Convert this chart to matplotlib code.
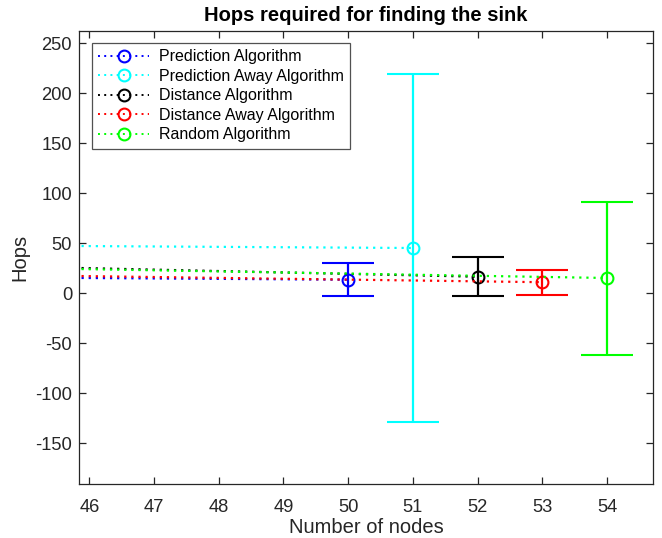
import numpy as np
import matplotlib.pyplot as plt
from matplotlib.lines import Line2D

plt.rcParams['font.family'] = ['Liberation Sans', 'DejaVu Sans']
plt.rcParams['axes.unicode_minus'] = False

# series data: previous node count (off-screen) and the shown node count
labels = ['Prediction Algorithm', 'Prediction Away Algorithm', 'Distance Algorithm',
          'Distance Away Algorithm', 'Random Algorithm']
colors = ['#0000ff', '#00ffff', '#000000', '#ff0000', '#00ff00']
nodes = [[45, 50], [45, 51], [45, 52], [45, 53], [45, 54]]
hops_mean = [[15.4, 13.3], [47.3, 45.0], [26.2, 16.3], [17.7, 10.8], [24.9, 15.0]]
hops_err = [[17.0, 16.7], [170.0, 173.6], [19.0, 19.7], [12.0, 12.5], [75.0, 76.5]]

fig = plt.figure(figsize=(6.62, 5.38), dpi=100)
ax = fig.add_axes([79 / 662, 1 - 484 / 538, (653 - 79) / 662, (484 - 31) / 538])

dots = (0, (1, 2.2))
handles = []
for x, m, e, c, lab in zip(nodes, hops_mean, hops_err, colors, labels):
    ax.errorbar(x, m, yerr=e, color=c, ecolor=c, linestyle=dots, linewidth=1.6,
                marker='o', markersize=8.5, markerfacecolor='none', markeredgewidth=1.5,
                elinewidth=1.6, capsize=18.7, capthick=1.6)
    handles.append(Line2D([], [], color=c, linestyle=dots, linewidth=1.4,
                          marker='o', markersize=8.5, markerfacecolor='none',
                          markeredgewidth=1.5, label=lab))

ax.set_xlim(45.84, 54.71)
ax.set_ylim(-191, 262)
ax.set_xticks(np.arange(46, 55, 1))
ax.set_yticks(np.arange(-150, 251, 50))

grey = '#262626'
for s in ax.spines.values():
    s.set_color(grey)
    s.set_linewidth(0.9)
ax.tick_params(direction='in', top=True, right=True, length=5, width=0.9,
               colors=grey, labelsize=13.2, labelcolor=grey)
ax.tick_params(axis='x', pad=11)
ax.tick_params(axis='y', pad=5)

ax.set_xlabel('Number of nodes', fontsize=14.5, color=grey, labelpad=1)
ax.set_ylabel('Hops', fontsize=14.5, color=grey, labelpad=4)
ax.set_title('Hops required for finding the sink', fontsize=14.5, fontweight='bold', pad=7)

leg = ax.legend(handles=handles, loc='upper left', bbox_to_anchor=(0.0226, 0.9735),
                prop={'size': 11.5}, frameon=True, fancybox=False, edgecolor=grey,
                handlelength=3.2, handletextpad=0.6, labelspacing=0.28,
                borderpad=0.4, borderaxespad=0)
leg.get_frame().set_linewidth(0.9)

fig.savefig('out.png', dpi=100)
